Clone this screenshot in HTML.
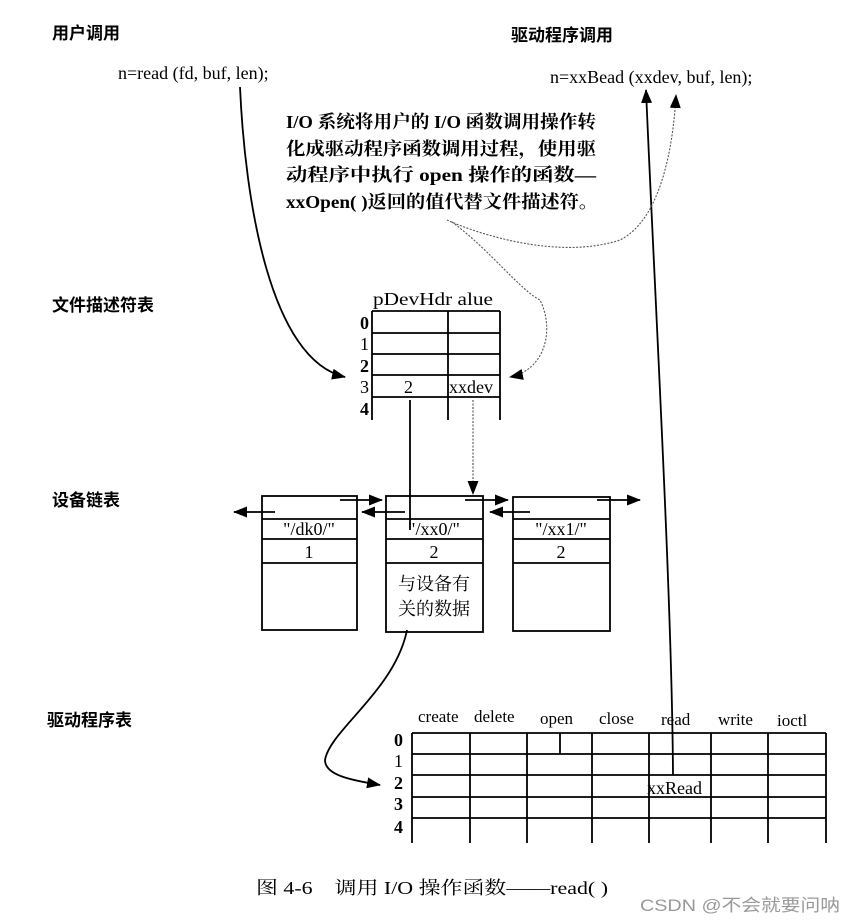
<!DOCTYPE html>
<html><head><meta charset="utf-8"><style>
html,body{margin:0;padding:0;background:#fff}
svg{display:block}
text{font-family:"Liberation Serif","Noto Serif CJK SC",serif;fill:#000}
.c{font-family:"Liberation Sans","Noto Sans CJK SC",sans-serif;font-weight:bold}
.s{font-family:"Liberation Serif","Noto Serif CJK SC",serif;font-weight:bold}
</style></head><body>
<svg width="856" height="921" viewBox="0 0 856 921" xmlns="http://www.w3.org/2000/svg">
<defs>
<marker id="a" markerWidth="14" markerHeight="11" refX="13" refY="5.5" orient="auto" markerUnits="userSpaceOnUse"><path d="M0,0 L14,5.5 L0,11 Z" fill="#000"/></marker>
</defs>
<g font-size="18">
<text x="52" y="39" class="c" font-size="17">用户调用</text>
<text x="118" y="79" font-size="18">n=read (fd, buf, len);</text>
<text x="511" y="41" class="c" font-size="17">驱动程序调用</text>
<text x="550" y="83" font-size="18">n=xxBead (xxdev, buf, len);</text>
<text x="286" y="128" class="s" font-size="18" textLength="310" lengthAdjust="spacingAndGlyphs">I/O 系统将用户的 I/O 函数调用操作转</text>
<text x="286" y="155" class="s" font-size="18" textLength="310" lengthAdjust="spacingAndGlyphs">化成驱动程序函数调用过程，使用驱</text>
<text x="286" y="181" class="s" font-size="18" textLength="310" lengthAdjust="spacingAndGlyphs">动程序中执行 open 操作的函数—</text>
<text x="286" y="208" class="s" font-size="18" textLength="312" lengthAdjust="spacingAndGlyphs">xxOpen( )返回的值代替文件描述符。</text>
<text x="52" y="311" class="c" font-size="17">文件描述符表</text>
<text x="52" y="506" class="c" font-size="17">设备链表</text>
<text x="47" y="726" class="c" font-size="17">驱动程序表</text>
</g>
<g stroke="#000" stroke-width="1.8" fill="none">
<path d="M372,311 H500 M372,333 H500 M372,354 H500 M372,375 H500 M372,397 H500"/>
<path d="M372,311 V420 M448,311 V420 M500,311 V420"/>
<rect x="262" y="496" width="95" height="134"/>
<path d="M262,519 H357 M262,539 H357 M262,563 H357"/>
<rect x="386" y="496" width="97" height="136"/>
<path d="M386,519 H483 M386,539 H483 M386,563 H483"/>
<rect x="513" y="497" width="97" height="134"/>
<path d="M513,519 H610 M513,539 H610 M513,563 H610"/>
<path d="M412,733 H826 M412,754 H826 M412,775 H826 M412,797 H826 M412,818 H826"/>
<path d="M412,733 V843 M470,733 V843 M527,733 V843 M592,733 V843 M649,733 V843 M711,733 V843 M768,733 V843 M826,733 V843 M560,733 V754"/>
</g>
<g font-size="18">
<text x="373" y="305" textLength="120" lengthAdjust="spacingAndGlyphs">pDevHdr  alue</text>
<text x="360" y="329" font-weight="bold">0</text><text x="360" y="350">1</text><text x="360" y="372" font-weight="bold">2</text><text x="360" y="393">3</text><text x="360" y="415" font-weight="bold">4</text>
<text x="404" y="393">2</text><text x="449" y="393">xxdev</text>
<text x="309" y="535" text-anchor="middle">"/dk0/"</text>
<text x="309" y="558" text-anchor="middle">1</text>
<text x="434" y="535" text-anchor="middle">"/xx0/"</text>
<text x="434" y="558" text-anchor="middle">2</text>
<text x="561" y="535" text-anchor="middle">"/xx1/"</text>
<text x="561" y="558" text-anchor="middle">2</text>
<text x="434" y="590" text-anchor="middle" class="s" font-size="18" style="font-weight:normal">与设备有</text>
<text x="434" y="615" text-anchor="middle" class="s" font-size="18" style="font-weight:normal">关的数据</text>
<text x="418" y="722" font-size="17">create</text><text x="474" y="722" font-size="17">delete</text><text x="540" y="724" font-size="17">open</text><text x="599" y="724" font-size="17">close</text><text x="661" y="725" font-size="17">read</text><text x="718" y="725" font-size="17">write</text><text x="777" y="726" font-size="17">ioctl</text>
<text x="394" y="746" font-weight="bold">0</text><text x="394" y="767">1</text><text x="394" y="789" font-weight="bold">2</text><text x="394" y="810" font-weight="bold">3</text><text x="394" y="833" font-weight="bold">4</text>
<text x="647" y="794">xxRead</text>
<text x="256" y="894" class="s" font-size="18" style="font-weight:normal" textLength="352" lengthAdjust="spacingAndGlyphs">图 4-6　调用 I/O 操作函数——read( )</text>
<text x="640" y="911" style="font-family:'Liberation Sans','Noto Sans CJK SC',sans-serif;fill:#999" font-size="17" textLength="200" lengthAdjust="spacingAndGlyphs">CSDN @不会就要问呐</text>
</g>
<g stroke="#000" stroke-width="1.8" fill="none">
<path d="M240,87 C245,200 270,360 345,377" marker-end="url(#a)"/>
<path d="M673,775 C672,600 655,300 646,90" marker-end="url(#a)"/>
<path d="M410,400 V530"/>
<path d="M407,630 C395,690 330,730 325,760 C325,775 350,780 380,785" marker-end="url(#a)"/>
<path d="M275,512 H234" marker-end="url(#a)"/>
<path d="M340,500 H382" marker-end="url(#a)"/>
<path d="M405,512 H362" marker-end="url(#a)"/>
<path d="M465,500 H508" marker-end="url(#a)"/>
<path d="M530,512 H490" marker-end="url(#a)"/>
<path d="M597,500 H640" marker-end="url(#a)"/>
</g>
<g stroke="#555" stroke-width="1.1" fill="none" stroke-dasharray="2,1.5">
<path d="M447,220 C480,235 560,260 620,240 C660,220 673,150 676,95" marker-end="url(#a)"/>
<path d="M452,222 C490,250 520,290 540,300 C555,330 545,370 510,377" marker-end="url(#a)"/>
<path d="M473,400 V494" marker-end="url(#a)"/>
</g>
</svg>
</body></html>
